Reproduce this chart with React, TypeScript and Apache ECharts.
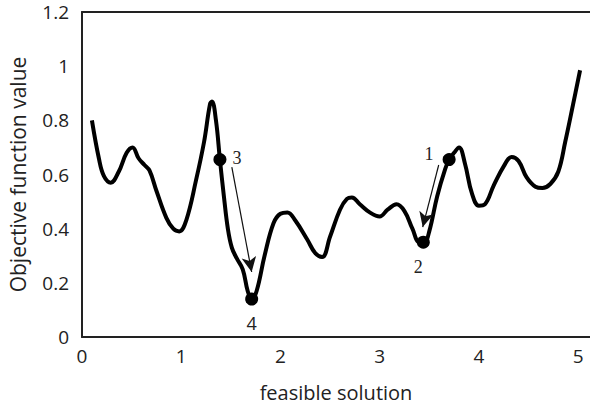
import React, { useEffect, useRef } from "react";
import * as echarts from "echarts";

// Curve samples: [feasible solution, objective value]
const curveX = [0.10, 0.17, 0.22, 0.29, 0.37, 0.45, 0.51, 0.57, 0.63, 0.68, 0.75, 0.85, 0.92, 0.98, 1.05, 1.15, 1.23, 1.29, 1.31, 1.35, 1.39, 1.43, 1.47, 1.51, 1.56, 1.62, 1.67, 1.71, 1.76, 1.84, 1.93, 2.00, 2.07, 2.15, 2.27, 2.35, 2.42, 2.50, 2.60, 2.67, 2.72, 2.80, 2.90, 3.00, 3.08, 3.17, 3.25, 3.33, 3.40, 3.45, 3.50, 3.58, 3.66, 3.70, 3.75, 3.80, 3.86, 3.93, 4.00, 4.06, 4.15, 4.25, 4.33, 4.40, 4.48, 4.57, 4.64, 4.72, 4.80, 4.87, 4.95, 5.02];
const curveY = [0.80, 0.66, 0.595, 0.57, 0.61, 0.68, 0.70, 0.66, 0.635, 0.615, 0.54, 0.44, 0.40, 0.39, 0.43, 0.58, 0.72, 0.86, 0.87, 0.80, 0.655, 0.52, 0.40, 0.33, 0.29, 0.25, 0.17, 0.14, 0.17, 0.30, 0.42, 0.455, 0.46, 0.43, 0.36, 0.31, 0.295, 0.37, 0.47, 0.51, 0.515, 0.49, 0.46, 0.445, 0.47, 0.49, 0.465, 0.40, 0.35, 0.35, 0.39, 0.52, 0.62, 0.655, 0.68, 0.70, 0.64, 0.53, 0.485, 0.49, 0.56, 0.63, 0.665, 0.65, 0.59, 0.555, 0.55, 0.565, 0.61, 0.72, 0.86, 0.985];

// Marked solutions
const pointNames = ["1", "2", "3", "4"];
const pointX = [3.70, 3.44, 1.39, 1.71];
const pointY = [0.655, 0.35, 0.655, 0.14];

// Arrows: [fromX, fromY, toX, toY]
const arrows = [
  [1.51, 0.627, 1.71, 0.24],
  [3.595, 0.635, 3.434, 0.406],
];

const xTicks = [0, 1, 2, 3, 4, 5];
const yMin = 0;
const yMax = 1.2;
const yStep = 0.2;

export default function App() {
  const ref = useRef<HTMLDivElement>(null);
  useEffect(() => {
    if (!ref.current) return;
    const chart = echarts.init(ref.current, undefined, { renderer: "svg" });
    const tickFont = { fontFamily: "Open Sans", fontSize: 19, color: "#222" };
    const serif = "'Liberation Serif', 'DejaVu Serif', serif";
    const labelCfg: any[] = [
      { position: "left", offset: [-4, -6], fontFamily: serif },
      { position: "bottom", offset: [-5, 4], fontFamily: serif },
      { position: "right", offset: [1, -2], fontFamily: serif },
      { position: "bottom", offset: [0, 3], fontFamily: "Open Sans" },
    ];
    chart.setOption({
      animation: false,
      grid: { left: 82, right: 0, top: 12, bottom: 69, outerBoundsMode: "none" },
      xAxis: [
        {
          type: "value",
          min: xTicks[0],
          max: 5.12,
          interval: 1,
          name: "feasible solution",
          nameLocation: "middle",
          nameGap: 45,
          nameTextStyle: { fontFamily: "Open Sans", fontSize: 20, color: "#222", verticalAlign: "top" },
          axisLine: { show: true, onZero: false, lineStyle: { color: "#222", width: 2 } },
          axisTick: { show: false },
          splitLine: { show: false },
          axisLabel: {
            ...tickFont,
            margin: 9,
            showMaxLabel: false,
            formatter: (v: number) => (xTicks.includes(v) ? String(v) : ""),
          },
        },
        {
          type: "value",
          position: "top",
          min: xTicks[0],
          max: 5.12,
          axisLine: { show: true, onZero: false, lineStyle: { color: "#222", width: 2 } },
          axisTick: { show: false },
          axisLabel: { show: false },
          splitLine: { show: false },
        },
      ],
      yAxis: {
        type: "value",
        min: yMin,
        max: yMax,
        interval: yStep,
        name: "Objective function value",
        nameLocation: "middle",
        nameGap: 54,
        nameTextStyle: { fontFamily: "Open Sans", fontSize: 21, color: "#222" },
        axisLine: { show: true, lineStyle: { color: "#222", width: 2 } },
        axisTick: { show: false },
        splitLine: { show: false },
        axisLabel: {
          ...tickFont,
          margin: 13,
          formatter: (v: number) => String(Math.round(v * 10) / 10),
        },
      },
      series: [
        {
          type: "line",
          smooth: 0.4,
          symbol: "none",
          silent: true,
          lineStyle: { color: "#000", width: 4 },
          data: curveX.map((x, i) => [x, curveY[i]]),
          z: 2,
        },
        {
          type: "scatter",
          silent: true,
          symbolSize: 13,
          itemStyle: { color: "#000", opacity: 1 },
          z: 3,
          data: pointNames.map((n, i) => ({
            value: [pointX[i], pointY[i]],
            name: n,
            label: {
              show: true,
              formatter: n,
              fontSize: 18,
              color: "#222",
              ...labelCfg[i],
            },
          })),
          markLine: {
            silent: true,
            symbol: ["none", "arrow"],
            symbolSize: [11, 15],
            label: { show: false },
            lineStyle: { color: "#111", width: 1.2, type: "solid", opacity: 1 },
            data: arrows.map((a) => [{ coord: [a[0], a[1]] }, { coord: [a[2], a[3]] }]),
          },
        },
      ],
    });
    return () => chart.dispose();
  }, []);
  return <div ref={ref} style={{ width: 590, height: 406, position: "absolute", left: 0, top: 0, background: "#fff" }} />;
}
